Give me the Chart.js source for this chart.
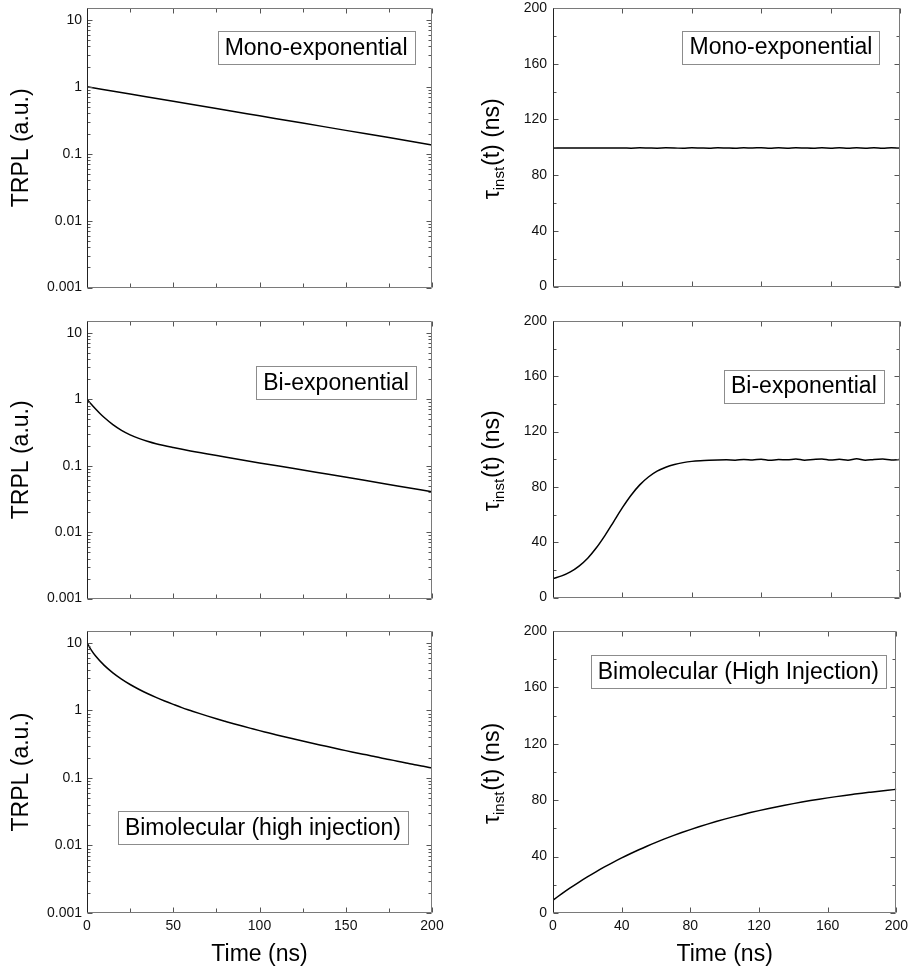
<!DOCTYPE html>
<html>
<head>
<meta charset="utf-8">
<script src="https://cdn.jsdelivr.net/npm/chart.js@4.4.1/dist/chart.umd.min.js"></script>
<style>
  html, body { margin: 0; padding: 0; background: #fff; }
  body { width: 913px; height: 971px; position: relative; overflow: hidden; }
</style>
</head>
<body>
<script>
// --- data ---
const timeMono = [0, 25, 50, 75, 100, 125, 150, 175, 200];
const trplMono = [1, 0.779, 0.607, 0.472, 0.368, 0.287, 0.223, 0.174, 0.135];

const timeTau = [0, 5, 10, 15, 20, 25, 30, 35, 40, 45, 50, 55, 60, 65, 70, 75, 80, 85, 90, 95,
  100, 105, 110, 115, 120, 125, 130, 135, 140, 145, 150, 155, 160, 165, 170, 175, 180, 185, 190, 195, 200];
const tauMono = [99.5, 99.5, 99.5, 99.5, 99.5, 99.5, 99.5, 99.5, 99.5, 99.4, 99.6, 99.5, 99.4, 99.6, 99.5,
  99.3, 99.6, 99.5, 99.4, 99.7, 99.5, 99.3, 99.6, 99.5, 99.7, 99.3, 99.6, 99.4, 99.7, 99.5, 99.3, 99.6,
  99.4, 99.7, 99.3, 99.6, 99.4, 99.7, 99.3, 99.6, 99.5];

const timeBi = [0, 2.5, 5, 7.5, 10, 15, 20, 25, 30, 35, 40, 50, 60, 70, 80, 100, 120, 140, 160, 180, 200];
const trplBi = [1.0, 0.838, 0.710, 0.609, 0.529, 0.414, 0.340, 0.291, 0.257, 0.233, 0.214, 0.187, 0.166,
  0.150, 0.135, 0.110, 0.0904, 0.0740, 0.0606, 0.0496, 0.0406];
const tauBi = [13.7, 15.7, 18.6, 22.8, 28.5, 36.0, 45.0, 55.0, 65.0, 74.0, 81.5, 87.2, 91.4, 94.3, 96.3,
  97.6, 98.5, 99.0, 99.3, 99.5, 99.6, 99.4, 99.9, 99.5, 100.1, 99.3, 99.8, 99.6, 100.2, 99.4, 99.9,
  100.3, 99.5, 100.0, 99.4, 100.4, 99.3, 99.9, 100.2, 99.5, 99.8];

const timeBimol = [0, 2.5, 5, 10, 15, 20, 25, 30, 35, 40, 45, 50, 55, 60, 65, 70, 75, 80, 85, 90, 95,
  100, 105, 110, 115, 120, 125, 130, 135, 140, 145, 150, 155, 160, 165, 170, 175, 180, 185, 190, 195, 200];
const trplBimol = [10, 7.82, 6.39, 4.64, 3.60, 2.91, 2.42, 2.06, 1.78, 1.56, 1.38, 1.23, 1.10, 0.996,
  0.903, 0.823, 0.753, 0.691, 0.635, 0.586, 0.542, 0.502, 0.467, 0.434, 0.404, 0.377, 0.352, 0.329,
  0.308, 0.289, 0.271, 0.254, 0.239, 0.225, 0.212, 0.199, 0.188, 0.177, 0.167, 0.157, 0.149, 0.140];
const tauBimol = [9.09, 11.34, 13.52, 17.74, 21.75, 25.57, 29.20, 32.65, 35.94, 39.06, 42.03, 44.86,
  47.55, 50.11, 52.54, 54.85, 57.06, 59.15, 61.14, 63.04, 64.84, 66.56, 68.19, 69.74, 71.21, 72.62,
  73.95, 75.22, 76.43, 77.58, 78.68, 79.71, 80.70, 81.65, 82.54, 83.40, 84.20, 84.98, 85.70, 86.40,
  87.06, 87.70];

// --- tick labels ---
const trplTicks = [0.001, 0.01, 0.1, 1, 10];
const tauTicks = [0, 40, 80, 120, 160, 200];
const tauMinor = [20, 60, 100, 140, 180];
const timeTicksLeft = [0, 50, 100, 150, 200];
const timeMinorLeft = [25, 75, 125, 175];
const timeTicksRight = [0, 40, 80, 120, 160, 200];

const FONT = "'Liberation Sans', Arial, sans-serif";

// page geometry of the six plot boxes
const cols = [
  { plotLeft: 87, plotRight: 432, canvasLeft: 0, canvasRight: 452 },
  { plotLeft: 553, plotRight: 900, canvasLeft: 453, canvasRight: 913 }
];
const rows = [
  { plotTop: 8, plotBottom: 291, canvasTop: -8, canvasBottom: 301 },
  { plotTop: 321, plotBottom: 602, canvasTop: 305, canvasBottom: 612 },
  { plotTop: 631, plotBottom: 913, canvasTop: 615, canvasBottom: 971 }
];

function pairs(xs, ys) {
  return xs.map((x, i) => ({ x: x, y: ys[i] }));
}

function fmt(v) {
  return String(+Number(v).toPrecision(4));
}

// frame + inward ticks on all four sides
const framePlugin = {
  id: 'frame',
  afterDatasetsDraw(chart, args, o) {
    const { ctx, chartArea: a, scales } = chart;
    const xs = scales.x, ys = scales.y;
    const L = Math.round(a.left) + 0.5, R = Math.round(a.right) - 0.5;
    const T = Math.round(a.top) + 0.5, B = Math.round(a.bottom) - 0.5;
    ctx.save();
    ctx.lineWidth = 1;
    ctx.strokeStyle = '#555';
    ctx.beginPath();
    const xt = (vals, len) => vals.forEach(v => {
      const p = Math.round(xs.getPixelForValue(v)) + 0.5;
      ctx.moveTo(p, B); ctx.lineTo(p, B - len);
      ctx.moveTo(p, T); ctx.lineTo(p, T + len);
    });
    const yt = (vals, len) => vals.forEach(v => {
      const p = Math.round(ys.getPixelForValue(v)) + 0.5;
      ctx.moveTo(L, p); ctx.lineTo(L + len, p);
      ctx.moveTo(R, p); ctx.lineTo(R - len, p);
    });
    xt(o.xMajor, 5); xt(o.xMinor || [], 4);
    yt(o.yMajor, 5); yt(o.yMinor || [], 3);
    ctx.stroke();
    // box
    ctx.strokeStyle = '#7a7a7a';
    ctx.beginPath();
    ctx.moveTo(L, T); ctx.lineTo(R, T); ctx.lineTo(R, B); ctx.lineTo(L, B);
    ctx.stroke();
    ctx.strokeStyle = '#222';
    ctx.beginPath();
    ctx.moveTo(L, T); ctx.lineTo(L, B);
    ctx.stroke();
    ctx.restore();
  }
};

const notePlugin = {
  id: 'note',
  afterDraw(chart, args, o) {
    const { ctx, chartArea: a } = chart;
    ctx.save();
    ctx.font = '23px ' + FONT;
    const tw = ctx.measureText(o.text).width;
    const bw = Math.round(tw + 14), bh = 33;
    const cx = a.left + o.fx * (a.right - a.left);
    const cy = a.top + o.fy * (a.bottom - a.top);
    const bx = Math.round(cx - bw / 2) + 0.5, by = Math.round(cy - bh / 2) + 0.5;
    ctx.fillStyle = '#fff';
    ctx.fillRect(bx, by, bw, bh);
    ctx.strokeStyle = '#8c8c8c';
    ctx.lineWidth = 1;
    ctx.strokeRect(bx, by, bw, bh);
    ctx.fillStyle = '#000';
    ctx.textAlign = 'center';
    ctx.textBaseline = 'middle';
    ctx.fillText(o.text, cx, cy + 1);
    ctx.restore();
  }
};

// tau_inst(t) (ns) with a subscript
const tauTitlePlugin = {
  id: 'tauTitle',
  afterDraw(chart, args, o) {
    if (!o.show) return;
    const { ctx, chartArea: a } = chart;
    const big = '23px ' + FONT, small = '15px ' + FONT;
    ctx.save();
    ctx.translate(a.left - 60, (a.top + a.bottom) / 2 + 2);
    ctx.rotate(-Math.PI / 2);
    ctx.fillStyle = '#000';
    ctx.textBaseline = 'middle';
    ctx.textAlign = 'left';
    ctx.font = big;
    const w1 = ctx.measureText('\u03C4').width;
    const w3 = ctx.measureText('(t) (ns)').width;
    ctx.font = small;
    const w2 = ctx.measureText('inst').width;
    const x0 = -(w1 + w2 + w3) / 2;
    ctx.font = big;
    ctx.fillText('\u03C4', x0, 0);
    ctx.font = small;
    ctx.fillText('inst', x0 + w1, 7);
    ctx.font = big;
    ctx.fillText('(t) (ns)', x0 + w1 + w2 + 1, 0);
    ctx.restore();
  }
};

function logMinor(min, max) {
  const out = [];
  for (let e = -3; e <= 1; e++) {
    for (let m = 2; m <= 9; m++) {
      const v = m * Math.pow(10, e);
      if (v > min && v < max) out.push(v);
    }
  }
  return out;
}

function makePanel(spec) {
  const col = cols[spec.col], row = rows[spec.row];
  const w = col.canvasRight - col.canvasLeft;
  const h = row.canvasBottom - row.canvasTop;
  const canvas = document.createElement('canvas');
  canvas.width = w;
  canvas.height = h;
  canvas.style.cssText = `position:absolute;left:${col.canvasLeft}px;top:${row.canvasTop}px;width:${w}px;height:${h}px;`;
  document.body.appendChild(canvas);

  const isLog = spec.col === 0;
  const bottomRow = spec.row === 2;
  const yMin = isLog ? 0.001 : 0, yMax = isLog ? 15 : 200;
  const yTicks = isLog ? trplTicks : tauTicks;
  const xTicks = isLog ? timeTicksLeft : timeTicksRight;

  new Chart(canvas, {
    type: 'line',
    data: {
      datasets: [{
        data: spec.data,
        borderColor: '#000',
        borderWidth: 1.5,
        pointRadius: 0,
        fill: false,
        cubicInterpolationMode: 'monotone'
      }]
    },
    options: {
      responsive: false,
      animation: false,
      devicePixelRatio: 1,
      layout: {
        padding: {
          left: 0,
          top: row.plotTop - row.canvasTop,
          right: col.canvasRight - col.plotRight,
          bottom: 0
        }
      },
      plugins: {
        legend: { display: false },
        tooltip: { enabled: false },
        frame: {
          xMajor: xTicks,
          xMinor: isLog ? timeMinorLeft : [],
          yMajor: yTicks,
          yMinor: isLog ? logMinor(yMin, yMax) : tauMinor
        },
        note: { text: spec.note, fx: spec.fx, fy: spec.fy },
        tauTitle: { show: !isLog }
      },
      scales: {
        x: {
          type: 'linear',
          min: 0,
          max: 200,
          grid: { display: false, drawTicks: false },
          border: { display: false },
          afterBuildTicks: s => { s.ticks = xTicks.map(v => ({ value: v })); },
          afterFit: s => { s.height = row.canvasBottom - row.plotBottom; },
          ticks: {
            display: bottomRow,
            autoSkip: false,
            maxRotation: 0,
            minRotation: 0,
            padding: 5,
            color: '#111',
            font: { family: FONT, size: 14 },
            callback: v => fmt(v)
          },
          title: {
            display: bottomRow,
            text: 'Time (ns)',
            color: '#000',
            font: { family: FONT, size: 23 },
            padding: { top: 0, bottom: 3 }
          }
        },
        y: {
          type: isLog ? 'logarithmic' : 'linear',
          min: yMin,
          max: yMax,
          grid: { display: false, drawTicks: false },
          border: { display: false },
          afterBuildTicks: s => { s.ticks = yTicks.map(v => ({ value: v })); },
          afterFit: s => { s.width = col.plotLeft - col.canvasLeft; },
          ticks: {
            autoSkip: false,
            padding: isLog ? 5 : 6,
            color: '#111',
            font: { family: FONT, size: 14 },
            callback: v => fmt(v)
          },
          title: {
            display: isLog,
            text: 'TRPL (a.u.)',
            color: '#000',
            font: { family: FONT, size: 23 },
            padding: { top: 8, bottom: 0 }
          }
        }
      }
    },
    plugins: [framePlugin, notePlugin, tauTitlePlugin]
  });
}

makePanel({ col: 0, row: 0, data: pairs(timeMono, trplMono), note: 'Mono-exponential', fx: 0.664, fy: 0.143 });
makePanel({ col: 1, row: 0, data: pairs(timeTau, tauMono), note: 'Mono-exponential', fx: 0.657, fy: 0.140 });
makePanel({ col: 0, row: 1, data: pairs(timeBi, trplBi), note: 'Bi-exponential', fx: 0.722, fy: 0.221 });
makePanel({ col: 1, row: 1, data: pairs(timeTau, tauBi), note: 'Bi-exponential', fx: 0.723, fy: 0.235 });
makePanel({ col: 0, row: 2, data: pairs(timeBimol, trplBimol), note: 'Bimolecular (high injection)', fx: 0.510, fy: 0.697 });
makePanel({ col: 1, row: 2, data: pairs(timeBimol, tauBimol), note: 'Bimolecular (High Injection)', fx: 0.540, fy: 0.145 });
</script>
</body>
</html>
